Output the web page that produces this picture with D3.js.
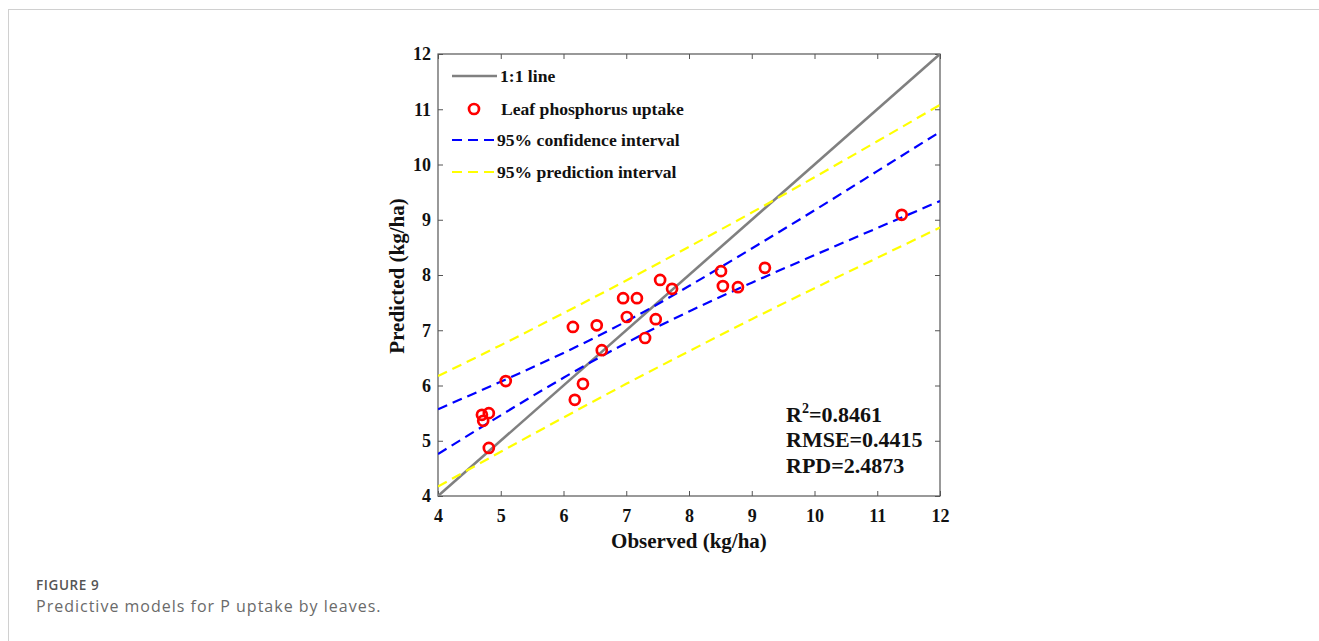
<!DOCTYPE html>
<html>
<head>
<meta charset="utf-8">
<script src="https://cdn.jsdelivr.net/npm/d3@7/dist/d3.min.js"></script>
<style>
  html, body { margin: 0; padding: 0; background: #fff; }
  svg { display: block; }
</style>
</head>
<body>
<svg id="chart" width="1319" height="641"></svg>
<script>
// ---- data ----
const observed  = [4.70, 4.81, 4.72, 4.81, 5.08, 6.15, 6.18, 6.31, 6.53, 6.61, 6.95,
                   7.01, 7.17, 7.30, 7.47, 7.54, 7.73, 8.51, 8.54, 8.78, 9.21, 11.39];
const predicted = [5.47, 5.50, 5.36, 4.87, 6.08, 7.06, 5.74, 6.03, 7.09, 6.64, 7.58,
                   7.24, 7.58, 6.86, 7.20, 7.91, 7.75, 8.07, 7.80, 7.78, 8.13, 9.09];
const bandX     = [4, 5, 6, 7, 8, 9, 10, 11, 12];
const upperPI   = [6.17, 6.73, 7.31, 7.90, 8.51, 9.13, 9.77, 10.42, 11.08];
const upperCI   = [5.57, 6.07, 6.59, 7.16, 7.80, 8.48, 9.17, 9.88, 10.59];
const lowerCI   = [4.76, 5.46, 6.14, 6.77, 7.34, 7.86, 8.36, 8.85, 9.34];
const lowerPI   = [4.17, 4.80, 5.42, 6.03, 6.62, 7.20, 7.76, 8.31, 8.86];
const oneToOne  = [4, 12];
const ticks     = [4, 5, 6, 7, 8, 9, 10, 11, 12];
const legendLabels = ["1:1 line", "Leaf phosphorus uptake", "95% confidence interval", "95% prediction interval"];
const stats = [["R", "2", "=0.8461"], ["RMSE=0.4415"], ["RPD=2.4873"]];

const svg = d3.select("#chart");
const serif = "'Times New Roman', 'Liberation Serif', serif";

// page frame
svg.append("line").attr("x1", 8).attr("x2", 1319).attr("y1", 9.5).attr("y2", 9.5)
  .attr("stroke", "#d0d0d0").attr("stroke-width", 1);
svg.append("line").attr("x1", 8.5).attr("x2", 8.5).attr("y1", 9).attr("y2", 641)
  .attr("stroke", "#d0d0d0").attr("stroke-width", 1);

const x = d3.scaleLinear().domain([4, 12]).range([438, 940]);
const y = d3.scaleLinear().domain([4, 12]).range([496, 54]);

const axisColor = "#555";
function styleAxis(g, showLabels) {
  g.select(".domain").remove();
  g.selectAll(".tick line").attr("stroke", axisColor).attr("stroke-width", 1);
  g.selectAll(".tick text").attr("fill", "#111")
    .attr("font-family", serif).attr("font-weight", "bold").attr("font-size", 18);
  if (!showLabels) g.selectAll(".tick text").remove();
}

svg.append("g").attr("transform", "translate(0,496)")
  .call(d3.axisBottom(x).tickValues(ticks).tickFormat(d3.format("d")).tickSizeInner(-5).tickSizeOuter(0).tickPadding(13))
  .call(g => styleAxis(g, true));
svg.append("g").attr("transform", "translate(0,54)")
  .call(d3.axisTop(x).tickValues(ticks).tickSizeInner(-5).tickSizeOuter(0))
  .call(g => styleAxis(g, false));
svg.append("g").attr("transform", "translate(438,0)")
  .call(d3.axisLeft(y).tickValues(ticks).tickFormat(d3.format("d")).tickSizeInner(-5).tickSizeOuter(0).tickPadding(7))
  .call(g => styleAxis(g, true));
svg.append("g").attr("transform", "translate(940,0)")
  .call(d3.axisRight(y).tickValues(ticks).tickSizeInner(-5).tickSizeOuter(0))
  .call(g => styleAxis(g, false));

// box
svg.append("rect").attr("x", x(4)).attr("y", y(12))
  .attr("width", x(12) - x(4)).attr("height", y(4) - y(12))
  .attr("fill", "none").attr("stroke", axisColor).attr("stroke-width", 1.2);

// clip
svg.append("clipPath").attr("id", "clip").append("rect")
  .attr("x", x(4)).attr("y", y(12)).attr("width", x(12) - x(4)).attr("height", y(4) - y(12));
const plot = svg.append("g").attr("clip-path", "url(#clip)");

// 1:1 line
plot.append("line")
  .attr("x1", x(oneToOne[0])).attr("y1", y(oneToOne[0]))
  .attr("x2", x(oneToOne[1])).attr("y2", y(oneToOne[1]))
  .attr("stroke", "#808080").attr("stroke-width", 2.6);

const line = d3.line().x(d => x(d[0])).y(d => y(d[1])).curve(d3.curveNatural);
function band(vals, color) {
  plot.append("path").datum(bandX.map((v, i) => [v, vals[i]]))
    .attr("d", line).attr("fill", "none").attr("stroke", color)
    .attr("stroke-width", 2.2).attr("stroke-dasharray", "10,6");
}
band(upperCI, "#0000ff");
band(lowerCI, "#0000ff");
band(upperPI, "#ffff00");
band(lowerPI, "#ffff00");

// points
plot.selectAll("circle.pt").data(observed.map((v, i) => [v, predicted[i]]))
  .enter().append("circle").attr("class", "pt")
  .attr("cx", d => x(d[0])).attr("cy", d => y(d[1])).attr("r", 5)
  .attr("fill", "none").attr("stroke", "#ff0000").attr("stroke-width", 2.7);

// legend
const leg = svg.append("g");
const legY = [76, 109, 140, 172];
leg.append("line").attr("x1", 452).attr("x2", 497).attr("y1", legY[0]).attr("y2", legY[0])
  .attr("stroke", "#808080").attr("stroke-width", 2.6);
leg.append("circle").attr("cx", 474).attr("cy", legY[1]).attr("r", 5)
  .attr("fill", "none").attr("stroke", "#ff0000").attr("stroke-width", 2.7);
leg.append("line").attr("x1", 452).attr("x2", 497).attr("y1", legY[2]).attr("y2", legY[2])
  .attr("stroke", "#0000ff").attr("stroke-width", 2.2).attr("stroke-dasharray", "10,6");
leg.append("line").attr("x1", 452).attr("x2", 497).attr("y1", legY[3]).attr("y2", legY[3])
  .attr("stroke", "#ffff00").attr("stroke-width", 2.2).attr("stroke-dasharray", "10,6");
const legX = [500, 501, 497, 497];
legendLabels.forEach((t, i) => {
  leg.append("text").attr("x", legX[i]).attr("y", legY[i]).attr("dy", "0.35em")
    .attr("font-family", serif).attr("font-weight", "bold").attr("font-size", 17.6)
    .attr("fill", "#111").text(t);
});

// stats
const statY = [422, 447, 473];
stats.forEach((s, i) => {
  const t = svg.append("text").attr("x", 786).attr("y", statY[i])
    .attr("font-family", serif).attr("font-weight", "bold").attr("font-size", 22).attr("fill", "#111");
  if (s.length === 3) {
    t.append("tspan").text(s[0]);
    t.append("tspan").attr("font-size", 14).attr("dy", -9).text(s[1]);
    t.append("tspan").attr("dy", 9).text(s[2]);
  } else {
    t.text(s[0]);
  }
});

// axis titles
svg.append("text").attr("x", 689).attr("y", 548).attr("text-anchor", "middle")
  .attr("font-family", serif).attr("font-weight", "bold").attr("font-size", 21).attr("fill", "#111")
  .text("Observed (kg/ha)");
svg.append("text").attr("transform", "translate(404,276) rotate(-90)").attr("text-anchor", "middle")
  .attr("font-family", serif).attr("font-weight", "bold").attr("font-size", 21).attr("fill", "#111")
  .text("Predicted (kg/ha)");

// caption
svg.append("text").attr("x", 36).attr("y", 590)
  .attr("font-family", "'Open Sans', 'Noto Sans', sans-serif").attr("font-size", 13.5)
  .attr("font-weight", 600).attr("letter-spacing", 0.6)
  .attr("fill", "#555").text("FIGURE 9");
svg.append("text").attr("x", 36).attr("y", 612)
  .attr("font-family", "'Open Sans', 'Noto Sans', sans-serif").attr("font-size", 16)
  .attr("letter-spacing", 1)
  .attr("fill", "#6a6a6a").text("Predictive models for P uptake by leaves.");
</script>
</body>
</html>
